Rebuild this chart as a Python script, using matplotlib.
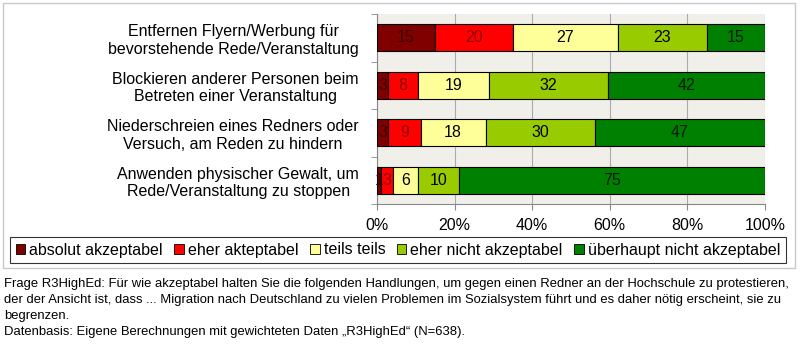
import matplotlib
matplotlib.use("Agg")
import matplotlib.pyplot as plt
import numpy as np
from matplotlib.patches import Rectangle

plt.rcParams['font.family'] = ['Liberation Sans', 'DejaVu Sans']

categories = [
    "Entfernen Flyern/Werbung für\nbevorstehende Rede/Veranstaltung",
    "Blockieren anderer Personen beim\nBetreten einer Veranstaltung",
    "Niederschreien eines Redners oder\nVersuch, am Reden zu hindern",
    "Anwenden physischer Gewalt, um\nRede/Veranstaltung zu stoppen",
]
series_names = ["absolut akzeptabel", "eher akteptabel", "teils teils",
                "eher nicht akzeptabel", "überhaupt nicht akzeptabel"]
absolut = [15, 3, 3, 1]
eher = [20, 8, 9, 3]
teils = [27, 19, 18, 6]
eher_nicht = [23, 32, 30, 10]
ueberhaupt = [15, 42, 47, 75]
xtick_labels = ["0%", "20%", "40%", "60%", "80%", "100%"]

colors = ["#800000", "#FF0000", "#FFFF99", "#99CC00", "#008000"]
label_colors = ["#3a0000", "#900000", "black", "black", "#001a00"]

data = np.array([absolut, eher, teils, eher_nicht, ueberhaupt], dtype=float)
totals = data.sum(axis=0)
shares = data / totals * 100

fig = plt.figure(figsize=(8, 3.52), dpi=100)
fig.patch.set_facecolor("white")
ax = fig.add_axes([377/800, 1-204/352, (765-377)/800, (204-14)/352])
ax.set_facecolor("#F0EFEA")

y = np.arange(len(categories))
left = np.zeros(len(categories))
for i in range(len(series_names)):
    ax.barh(y, shares[i], left=left, height=0.57, color=colors[i],
            edgecolor="black", linewidth=0.8, label=series_names[i], zorder=3)
    for j in range(len(categories)):
        ax.text(left[j] + shares[i][j]/2, y[j], f"{int(data[i][j])}",
                ha="center", va="center", fontsize=11.5, color=label_colors[i], zorder=4)
    left += shares[i]

ax.set_xlim(0, 100)
ax.set_ylim(len(categories)-0.5, -0.5)
ax.set_xticks(np.linspace(0, 100, 6))
ax.set_xticklabels(xtick_labels, fontsize=11.5)
ax.set_yticks(y)
ax.set_yticklabels(categories, fontsize=11.5, multialignment="center")
ax.set_yticks(np.arange(len(categories)+1) - 0.5, minor=True)
ax.tick_params(axis="y", which="major", length=0, pad=13)
ax.tick_params(axis="y", which="minor", length=4, color="#888888")
ax.tick_params(axis="x", length=4, color="#888888", pad=6)
ax.grid(axis="x", color="#AAAAAA", linewidth=0.8, zorder=0)
for s in ["top", "right"]:
    ax.spines[s].set_visible(False)
for s in ["left", "bottom"]:
    ax.spines[s].set_color("#888888")

leg = fig.legend(loc="center", bbox_to_anchor=(398/800, 1-250/352), ncol=5,
                 fontsize=11.5, frameon=True, fancybox=False, edgecolor="black",
                 handlelength=0.6, handleheight=0.6, handletextpad=0.25,
                 columnspacing=0.72, borderpad=0.35)
leg.get_frame().set_linewidth(0.8)
for h in leg.legend_handles:
    h.set_linewidth(0.6)

fig.patches.append(Rectangle((3/800, 1-268/352), 792/800, 265/352, transform=fig.transFigure,
                             fill=False, edgecolor="#C8C8C8", linewidth=1))

foot = ["Frage R3HighEd: Für wie akzeptabel halten Sie die folgenden Handlungen, um gegen einen Redner an der Hochschule zu protestieren,",
        "der der Ansicht ist, dass ... Migration nach Deutschland zu vielen Problemen im Sozialsystem führt und es daher nötig erscheint, sie zu",
        "begrenzen.",
        "Datenbasis: Eigene Berechnungen mit gewichteten Daten \u201eR3HighEd\u201c (N=638)."]
for k, line in enumerate(foot):
    fig.text(4/800, 1-(284+16*k)/352, line, ha="left", va="center", fontsize=9.4)

fig.savefig("out.png", dpi=100)
